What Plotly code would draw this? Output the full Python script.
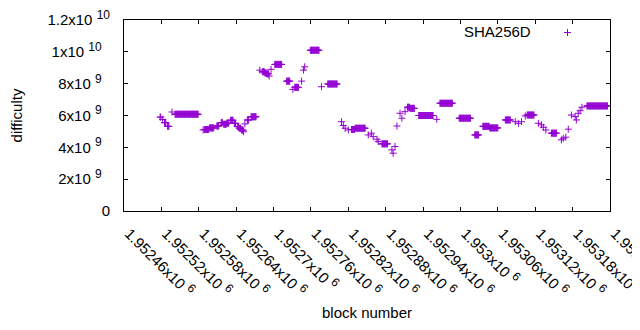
import plotly.graph_objects as go

# Difficulty runs: (first block, last block, difficulty)
run_first = [1952518, 1952522, 1952525, 1952530, 1952537, 1952542, 1952587, 1952589, 1952597,
             1952609, 1952616, 1952620, 1952625, 1952631, 1952637, 1952642, 1952645, 1952649,
             1952652, 1952654, 1952658, 1952664, 1952678, 1952682, 1952686, 1952689, 1952693,
             1952696, 1952702, 1952721, 1952731, 1952734, 1952745, 1952748, 1952750, 1952759,
             1952777, 1952787, 1952809, 1952812, 1952815, 1952820, 1952825, 1952831, 1952852,
             1952857, 1952860, 1952866, 1952868, 1952874, 1952890, 1952892, 1952895, 1952898,
             1952903, 1952906, 1952911, 1952915, 1952919, 1952933, 1952962, 1952967, 1952998,
             1953023, 1953036, 1953047, 1953072, 1953088, 1953093, 1953098, 1953104, 1953107,
             1953125, 1953130, 1953133, 1953137, 1953146, 1953162, 1953165, 1953169, 1953173,
             1953178, 1953184, 1953186, 1953189, 1953192, 1953195, 1953203]
run_last = [1952519, 1952522, 1952527, 1952532, 1952537, 1952579, 1952587, 1952596, 1952604,
            1952612, 1952618, 1952624, 1952628, 1952635, 1952639, 1952644, 1952647, 1952651,
            1952652, 1952654, 1952660, 1952672, 1952678, 1952685, 1952688, 1952692, 1952693,
            1952696, 1952713, 1952726, 1952731, 1952740, 1952745, 1952748, 1952750, 1952773,
            1952777, 1952802, 1952809, 1952812, 1952815, 1952820, 1952830, 1952847, 1952852,
            1952857, 1952860, 1952866, 1952868, 1952883, 1952890, 1952892, 1952895, 1952898,
            1952903, 1952906, 1952911, 1952918, 1952926, 1952956, 1952962, 1952987, 1953016,
            1953029, 1953046, 1953060, 1953080, 1953088, 1953093, 1953098, 1953104, 1953118,
            1953125, 1953130, 1953133, 1953137, 1953154, 1953162, 1953165, 1953169, 1953173,
            1953178, 1953184, 1953186, 1953189, 1953192, 1953195, 1953236]
run_difficulty = [5.90e9, 5.75e9, 5.55e9, 5.32e9, 6.22e9, 6.08e9, 5.09e9, 5.12e9, 5.22e9,
                  5.34e9, 5.55e9, 5.45e9, 5.52e9, 5.70e9, 5.51e9, 5.30e9, 5.20e9, 5.08e9,
                  4.98e9, 5.47e9, 5.72e9, 5.92e9, 8.85e9, 8.75e9, 8.68e9, 8.62e9, 8.48e9,
                  8.90e9, 9.21e9, 8.16e9, 7.64e9, 7.77e9, 8.16e9, 8.85e9, 9.06e9, 10.10e9,
                  7.81e9, 7.98e9, 5.61e9, 5.37e9, 5.20e9, 5.09e9, 5.12e9, 5.20e9, 4.78e9,
                  4.89e9, 4.67e9, 4.51e9, 4.36e9, 4.22e9, 3.84e9, 3.63e9, 4.05e9, 5.34e9,
                  6.14e9, 5.83e9, 6.24e9, 6.52e9, 6.45e9, 6.00e9, 5.76e9, 6.77e9, 5.83e9,
                  4.78e9, 5.32e9, 5.22e9, 5.72e9, 5.61e9, 5.51e9, 5.61e9, 5.97e9, 6.03e9,
                  5.51e9, 5.41e9, 5.26e9, 5.09e9, 4.89e9, 4.47e9, 4.57e9, 4.64e9, 5.14e9,
                  6.03e9, 5.93e9, 5.72e9, 6.14e9, 6.30e9, 6.52e9, 6.60e9]

x_ticks = [1952460, 1952520, 1952580, 1952640, 1952700, 1952760, 1952820,
           1952880, 1952940, 1953000, 1953060, 1953120, 1953180, 1953240]
y_ticks = [0, 2e9, 4e9, 6e9, 8e9, 1e10, 1.2e10]
y_mantissa = ["0", "2", "4", "6", "8", "1", "1.2"]
y_exponent = ["", "9", "9", "9", "9", "10", "10"]
series_name = "SHA256D"

# one point per block within each constant-difficulty run
blocks, diffs = [], []
for a, b, d in zip(run_first, run_last, run_difficulty):
    for blk in range(a, b + 1):
        blocks.append(blk)
        diffs.append(d)

SUP = '<sup><span style="font-size:12px">{}</span></sup>'
x_ticktext = [f"{v/1e6:.6g}x10 " + SUP.format(6) for v in x_ticks]
# gnuplot's enhanced-text justification leaves most exponent labels short of the axis
y_pad = ["", "\u00a0\u00a0", "\u00a0\u00a0", "\u00a0\u00a0", "\u00a0\u00a0", "\u00a0\u00a0", ""]
y_ticktext = [m if not e else f"{m}x10 " + SUP.format(e) + p
              for m, e, p in zip(y_mantissa, y_exponent, y_pad)]

COLOR = "#9400D3"
FONT = "Liberation Sans, Arial, sans-serif"
FS = 15

fig = go.Figure()
fig.add_trace(go.Scatter(
    x=blocks, y=diffs, mode="markers", name=series_name,
    marker=dict(symbol="cross-thin", size=5, line=dict(color=COLOR, width=1), color=COLOR),
    showlegend=False, cliponaxis=True,
))

OFF = 8  # page body margin
W, H = 640 - OFF, 330 - OFF
L, R, T, B = 124 - OFF, 30, 20 - OFF, 119
pw, ph = W - L - R, H - T - B

def px(xp):
    return (xp - OFF - L) / pw

def py(yp):
    return (H - B - (yp - OFF)) / ph

axis_common = dict(
    showline=True, linecolor="black", linewidth=1, mirror="allticks",
    ticks="inside", ticklen=4, tickcolor="black", showgrid=False, zeroline=False,
    automargin=False, ticklabeloverflow="allow",
    tickfont=dict(family=FONT, size=FS, color="black"),
)

fig.update_layout(
    width=W, height=H,
    margin=dict(l=L, r=R, t=T, b=B, pad=0, autoexpand=False),
    paper_bgcolor="white", plot_bgcolor="white",
    font=dict(family=FONT, size=FS, color="black"),
    xaxis=dict(range=[x_ticks[0], x_ticks[-1]], tickvals=x_ticks, ticktext=x_ticktext,
               tickangle=45, ticklabelshift=5, ticklabelstandoff=7,
               title=dict(text="block number", standoff=8, font=dict(family=FONT, size=FS)),
               **axis_common),
    yaxis=dict(range=[0, 1.2e10], tickvals=y_ticks, ticktext=y_ticktext,
               ticklabelstandoff=10,
               title=dict(text="difficulty", standoff=36, font=dict(family=FONT, size=FS)),
               **axis_common),
    annotations=[dict(text=series_name, xref="paper", yref="paper", x=px(533), y=py(32),
                      xanchor="right", yanchor="middle", showarrow=False,
                      font=dict(family=FONT, size=FS, color="black"))],
    shapes=[
        dict(type="line", xref="paper", yref="paper", x0=px(564), x1=px(571), y0=py(32.5), y1=py(32.5),
             line=dict(color=COLOR, width=1)),
        dict(type="line", xref="paper", yref="paper", x0=px(567.5), x1=px(567.5), y0=py(29), y1=py(36),
             line=dict(color=COLOR, width=1)),
    ],
)

fig.write_html("out.html")
